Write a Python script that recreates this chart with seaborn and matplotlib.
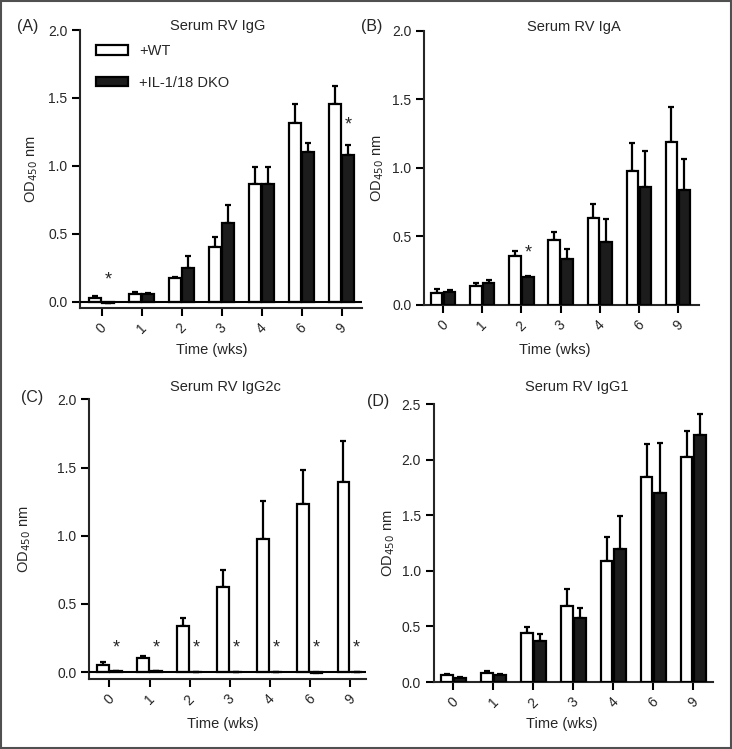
import matplotlib
matplotlib.use("Agg")
import matplotlib.pyplot as plt
import seaborn as sns
import pandas as pd
from matplotlib.patches import Rectangle

# weeks after transfer
weeks = ["0", "1", "2", "3", "4", "6", "9"]
groups = ["+WT", "+IL-1/18 DKO"]

# (A) Serum RV IgG
igg_wt = [0.03, 0.06, 0.174, 0.40, 0.864, 1.315, 1.453]
igg_wt_err = [0.014, 0.014, 0.008, 0.074, 0.13, 0.143, 0.137]
igg_ko = [-0.012, 0.06, 0.245, 0.577, 0.869, 1.10, 1.08]
igg_ko_err = [0.004, 0.006, 0.091, 0.133, 0.125, 0.066, 0.076]

# (B) Serum RV IgA
iga_wt = [0.09, 0.141, 0.354, 0.476, 0.632, 0.98, 1.19]
iga_wt_err = [0.025, 0.022, 0.041, 0.053, 0.102, 0.20, 0.251]
iga_ko = [0.095, 0.163, 0.202, 0.337, 0.461, 0.859, 0.837]
iga_ko_err = [0.017, 0.02, 0.013, 0.068, 0.168, 0.265, 0.229]

# (C) Serum RV IgG2c
igg2c_wt = [0.056, 0.103, 0.338, 0.624, 0.979, 1.236, 1.395]
igg2c_wt_err = [0.017, 0.019, 0.061, 0.126, 0.274, 0.244, 0.299]
igg2c_ko = [0.005, 0.005, 0.003, 0.003, 0.003, -0.003, 0.003]
igg2c_ko_err = [0.001, 0.001, 0.001, 0.001, 0.001, 0.001, 0.001]

# (D) Serum RV IgG1
igg1_wt = [0.066, 0.084, 0.444, 0.684, 1.086, 1.843, 2.02]
igg1_wt_err = [0.009, 0.012, 0.051, 0.15, 0.22, 0.30, 0.24]
igg1_ko = [0.039, 0.066, 0.369, 0.573, 1.2, 1.696, 2.224]
igg1_ko_err = [0.006, 0.009, 0.066, 0.09, 0.295, 0.456, 0.186]

# significance stars: (week index, height)
stars_a = [(0, 0.16), (6, 1.30)]
stars_b = [(2, 0.378)]
stars_c = [(i, 0.176) for i in range(7)]

sns.set_style("ticks")
plt.rcParams["font.family"] = ["Liberation Sans", "DejaVu Sans"]
plt.rcParams["axes.linewidth"] = 1.5

W, H = 732, 749
fig = plt.figure(figsize=(W / 100, H / 100), dpi=100)


def px_axes(l, t, r, b):
    return fig.add_axes([l / W, 1 - b / H, (r - l) / W, (b - t) / H])


def panel(ax, wt, wt_err, ko, ko_err, ylim, yticks, xlim, title, title_xy, ylab_x,
          stars=(), zero_line=False):
    df = pd.DataFrame({
        "week": weeks * 2,
        "group": [groups[0]] * 7 + [groups[1]] * 7,
        "od": wt + ko,
    })
    sns.barplot(data=df, x="week", y="od", hue="group", order=weeks, hue_order=groups,
                palette={groups[0]: "white", groups[1]: "#1c1c1c"},
                edgecolor="black", linewidth=1.6, width=0.66, gap=0.12,
                errorbar=None, legend=False, ax=ax, zorder=3)
    for cont, means, errs in zip(ax.containers, [wt, ko], [wt_err, ko_err]):
        xs = [p.get_x() + p.get_width() / 2 for p in cont.patches]
        ax.errorbar(xs, means, yerr=[[0] * 7, errs], fmt="none", ecolor="black",
                    elinewidth=1.6, capsize=2, capthick=1.6, zorder=2)
    ko_x = [p.get_x() + p.get_width() / 2 for p in ax.containers[1].patches]
    for i, y in stars:
        ax.text(ko_x[i], y, "*", ha="center", va="center", fontsize=13)
    if zero_line:
        ax.axhline(0, color="black", lw=1.5, zorder=4)
    ax.set_ylim(*ylim)
    ax.set_yticks(yticks)
    ax.set_yticklabels([f"{v:.1f}" for v in yticks])
    ax.set_xlim(*xlim)
    ax.tick_params(axis="both", labelsize=10, width=1.5, length=5.5, color="black")
    ax.tick_params(axis="x", pad=4)
    for lab in ax.get_xticklabels():
        lab.set_rotation(45)
        lab.set_ha("center")
    ax.set_xlabel("")
    ax.set_ylabel("")
    sns.despine(ax=ax)
    ax.text(title_xy[0], title_xy[1], title, transform=ax.transAxes,
            ha="center", va="center", fontsize=10.5)
    ax.text(ylab_x, 0.5, r"OD$_{450}$ nm", transform=ax.transAxes, rotation=90,
            ha="center", va="center", fontsize=10.5)
    return ax


ax_a = px_axes(80, 30, 362, 307.7)
panel(ax_a, igg_wt, igg_wt_err, igg_ko, igg_ko_err, (-0.044, 2.0),
      [0.0, 0.5, 1.0, 1.5, 2.0], (-0.54, 6.51), "Serum RV IgG", (0.49, 1.013),
      -0.171, stars_a, zero_line=True)
ax_a.legend(ax_a.containers[:2], groups, loc="upper left", bbox_to_anchor=(0.03, 0.975),
            frameon=False, fontsize=10.5, handlelength=2.2, handleheight=0.6,
            handletextpad=0.75, labelspacing=1.2, borderpad=0)
ax_a.text(0.467, -0.152, "Time (wks)", transform=ax_a.transAxes, ha="center",
          va="center", fontsize=10.5)

ax_b = px_axes(424, 30.7, 699, 305)
panel(ax_b, iga_wt, iga_wt_err, iga_ko, iga_ko_err, (0, 2.0),
      [0.0, 0.5, 1.0, 1.5, 2.0], (-0.49, 6.54), "Serum RV IgA", (0.544, 1.015),
      -0.168, stars_b)
ax_b.text(0.476, -0.164, "Time (wks)", transform=ax_b.transAxes, ha="center",
          va="center", fontsize=10.5)

ax_c = px_axes(89, 399.3, 366, 679)
panel(ax_c, igg2c_wt, igg2c_wt_err, igg2c_ko, igg2c_ko_err, (-0.05, 2.0),
      [0.0, 0.5, 1.0, 1.5, 2.0], (-0.51, 6.4), "Serum RV IgG2c", (0.492, 1.045),
      -0.231, stars_c, zero_line=True)
ax_c.text(0.484, -0.161, "Time (wks)", transform=ax_c.transAxes, ha="center",
          va="center", fontsize=10.5)

ax_d = px_axes(433.5, 404, 712.7, 682)
panel(ax_d, igg1_wt, igg1_wt_err, igg1_ko, igg1_ko_err, (0, 2.5),
      [0.0, 0.5, 1.0, 1.5, 2.0, 2.5], (-0.5, 6.49), "Serum RV IgG1", (0.514, 1.062),
      -0.16)
ax_d.text(0.461, -0.151, "Time (wks)", transform=ax_d.transAxes, ha="center",
          va="center", fontsize=10.5)

for lab, x, y in [("(A)", 27.5, 26.7), ("(B)", 372, 26.7), ("(C)", 32.5, 397.5),
                  ("(D)", 378.5, 401.7)]:
    fig.text(x / W, 1 - y / H, lab, ha="center", va="center", fontsize=11.5)

fig.patches.append(Rectangle((0.001, 0.001), 0.998, 0.998, transform=fig.transFigure,
                             fill=False, edgecolor="#505050", lw=1.5))

fig.savefig("out.png", dpi=100)
